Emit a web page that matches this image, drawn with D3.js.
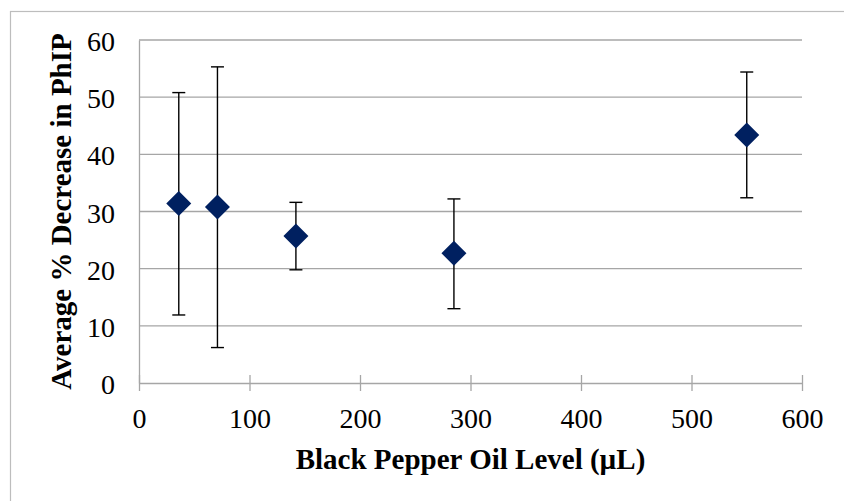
<!DOCTYPE html>
<html>
<head>
<meta charset="utf-8">
<script src="https://cdn.jsdelivr.net/npm/d3@7"></script>
<style>
  body { margin: 0; background: #fff; }
  svg { display: block; }
</style>
</head>
<body>
<div id="chart"></div>
<script>
// oil level (µL) and mean % decrease with error bar ends
const oilLevels = [36, 71, 142, 285, 550]
const meanDecrease = [31.4, 30.8, 25.7, 22.7, 43.4]
const errLow = [11.9, 6.2, 19.8, 13.0, 32.4]
const errHigh = [50.8, 55.3, 31.6, 32.2, 54.4]
const xTicks = [0, 100, 200, 300, 400, 500, 600]
const yTicks = [0, 10, 20, 30, 40, 50, 60]

const W = 844
const H = 501
const margin = { top: 40, right: 42, bottom: 118, left: 139 }
const width = W - margin.left - margin.right
const height = H - margin.top - margin.bottom
const serif = "'Liberation Serif', 'DejaVu Serif', serif"

const points = oilLevels.map((x, i) => ({
  x: x,
  y: meanDecrease[i],
  lo: errLow[i],
  hi: errHigh[i],
}))

const svg = d3
  .select('#chart')
  .append('svg')
  .attr('width', W)
  .attr('height', H)

// outer chart frame (only top and left edges show in the picture)
svg
  .append('rect')
  .attr('x', 10.5)
  .attr('y', 11.5)
  .attr('width', W + 20)
  .attr('height', H + 20)
  .attr('fill', 'none')
  .attr('stroke', '#bdbdbd')
  .attr('stroke-width', 1.2)

const g = svg
  .append('g')
  .attr('transform', `translate(${margin.left}, ${margin.top})`)

const x = d3.scaleLinear().domain([0, 600]).range([0, width])
const y = d3.scaleLinear().domain([0, 60]).range([height, 0])

// horizontal gridlines
g.append('g')
  .selectAll('line')
  .data(yTicks.filter((d) => d > 0))
  .enter()
  .append('line')
  .attr('x1', 0)
  .attr('x2', width)
  .attr('y1', (d) => y(d))
  .attr('y2', (d) => y(d))
  .attr('stroke', '#a6a6a6')
  .attr('stroke-width', 1.3)

// y axis: plain line, labels only
const yAxis = g
  .append('g')
  .call(d3.axisLeft(y).tickValues(yTicks).tickSize(0).tickPadding(24))
yAxis.attr('font-family', serif).attr('font-size', 28)
yAxis.select('.domain').attr('stroke', '#a6a6a6').attr('stroke-width', 1.3)
yAxis.selectAll('text').attr('fill', '#000').attr('dy', '0.38em')

// x axis with ticks crossing the line
const xAxis = g
  .append('g')
  .attr('transform', `translate(0,${height})`)
  .call(d3.axisBottom(x).tickValues(xTicks).tickSize(8).tickSizeOuter(0).tickPadding(17))
xAxis.attr('font-family', serif).attr('font-size', 28)
xAxis.select('.domain').attr('stroke', '#a6a6a6').attr('stroke-width', 1.3)
xAxis
  .selectAll('.tick line')
  .attr('y1', -8)
  .attr('stroke', '#a6a6a6')
  .attr('stroke-width', 1.3)
xAxis.selectAll('text').attr('fill', '#000')

// error bars
const errs = g.append('g').attr('stroke', '#000').attr('stroke-width', 1.4)
errs
  .selectAll('.stem')
  .data(points)
  .enter()
  .append('line')
  .attr('x1', (d) => x(d.x))
  .attr('x2', (d) => x(d.x))
  .attr('y1', (d) => y(d.lo))
  .attr('y2', (d) => y(d.hi))
errs
  .selectAll('.capHi')
  .data(points)
  .enter()
  .append('line')
  .attr('x1', (d) => x(d.x) - 6.5)
  .attr('x2', (d) => x(d.x) + 6.5)
  .attr('y1', (d) => y(d.hi))
  .attr('y2', (d) => y(d.hi))
errs
  .selectAll('.capLo')
  .data(points)
  .enter()
  .append('line')
  .attr('x1', (d) => x(d.x) - 6.5)
  .attr('x2', (d) => x(d.x) + 6.5)
  .attr('y1', (d) => y(d.lo))
  .attr('y2', (d) => y(d.lo))

// diamond markers
g.append('g')
  .selectAll('path')
  .data(points)
  .enter()
  .append('path')
  .attr('transform', (d) => `translate(${x(d.x)},${y(d.y)})`)
  .attr('d', 'M0,-12.5L12.5,0L0,12.5L-12.5,0Z')
  .attr('fill', '#002060')

// axis titles
svg
  .append('text')
  .attr('x', 470.5)
  .attr('y', 469)
  .attr('text-anchor', 'middle')
  .attr('font-family', serif)
  .attr('font-weight', 'bold')
  .attr('font-size', 29)
  .text('Black Pepper Oil Level (µL)')

svg
  .append('text')
  .attr('transform', 'translate(70.5,211.5) rotate(-90)')
  .attr('text-anchor', 'middle')
  .attr('font-family', serif)
  .attr('font-weight', 'bold')
  .attr('font-size', 29)
  .text('Average % Decrease in PhIP')
</script>
</body>
</html>
